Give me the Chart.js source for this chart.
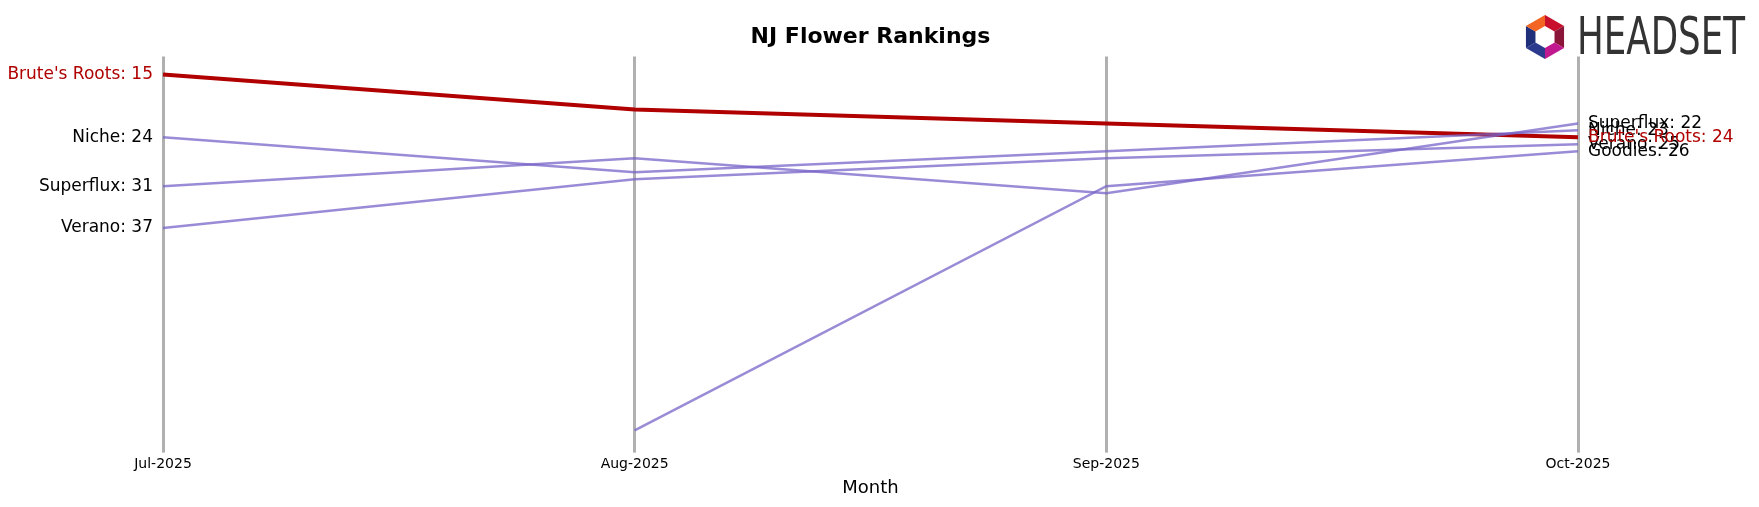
<!DOCTYPE html>
<html>
<head>
<meta charset="utf-8">
<script src="https://cdn.jsdelivr.net/npm/chart.js@4"></script>
<style>
  html, body { margin: 0; padding: 0; background: #fff; }
  #wrap { width: 1759px; height: 507px; position: relative; }
</style>
</head>
<body>
<div id="wrap"><canvas id="rankChart"></canvas></div>
<script>
// data (rank, lower is better)
var months = ["Jul-2025", "Aug-2025", "Sep-2025", "Oct-2025"];
var brutesRoots = [15, 20, 22, 24];
var niche = [24, 29, 26, 23];
var superflux = [31, 27, 32, 22];
var verano = [37, 30, 27, 25];
var goodies = [null, 66, 31, 26];

var highlight = "#b00000";
var other = "rgba(120,100,200,0.75)";

function series(name, data, color, width) {
  return {
    label: name, data: data, borderColor: color, borderWidth: width,
    pointRadius: 0, tension: 0, spanGaps: false, fill: false
  };
}

// draws "Name: rank" at the first and last point of each line
var endLabels = {
  id: "endLabels",
  afterDatasetsDraw: function(chart) {
    var ctx = chart.ctx;
    ctx.save();
    ctx.font = "17px 'DejaVu Sans', sans-serif";
    ctx.textBaseline = "middle";
    chart.data.datasets.forEach(function(ds, i) {
      var meta = chart.getDatasetMeta(i);
      ctx.fillStyle = ds.label === "Brute's Roots" ? highlight : "#000";
      if (ds.data[0] !== null) {
        ctx.textAlign = "right";
        ctx.fillText(ds.label + ": " + ds.data[0], meta.data[0].x - 10, meta.data[0].y);
      }
      var last = ds.data.length - 1;
      ctx.textAlign = "left";
      ctx.fillText(ds.label + ": " + ds.data[last], meta.data[last].x + 10, meta.data[last].y);
    });
    ctx.restore();
  }
};

// simple brand mark in the top right corner
var logo = {
  id: "logo",
  afterDraw: function(chart) {
    var ctx = chart.ctx;
    ctx.save();
    var cx = 1545, cy = 37, r = 22;
    var cols = ["#c8102e", "#8a1538", "#c2188f", "#2b3a8c", "#1f2f7a", "#f26522"];
    for (var k = 0; k < 6; k++) {
      var a0 = -Math.PI / 2 + k * Math.PI / 3, a1 = a0 + Math.PI / 3;
      ctx.beginPath();
      ctx.moveTo(cx + r * 0.5 * Math.cos(a0), cy + r * 0.5 * Math.sin(a0));
      ctx.lineTo(cx + r * Math.cos(a0), cy + r * Math.sin(a0));
      ctx.lineTo(cx + r * Math.cos(a1), cy + r * Math.sin(a1));
      ctx.lineTo(cx + r * 0.5 * Math.cos(a1), cy + r * 0.5 * Math.sin(a1));
      ctx.closePath();
      ctx.fillStyle = cols[k];
      ctx.fill();
    }
    ctx.fillStyle = "#333";
    ctx.font = "52px 'Liberation Sans Narrow', 'DejaVu Sans Condensed', sans-serif";
    ctx.textBaseline = "middle";
    ctx.textAlign = "left";
    ctx.fillText("HEADSET", 1577, 40, 168);
    ctx.restore();
  }
};

new Chart(document.getElementById("rankChart"), {
  type: "line",
  data: {
    labels: months,
    datasets: [
      series("Niche", niche, other, 2.5),
      series("Superflux", superflux, other, 2.5),
      series("Verano", verano, other, 2.5),
      series("Goodies", goodies, other, 2.5),
      series("Brute's Roots", brutesRoots, highlight, 4)
    ]
  },
  options: {
    responsive: true,
    maintainAspectRatio: false,
    animation: false,
    layout: { padding: { left: 163, right: 181, top: 0, bottom: 4 } },
    plugins: {
      legend: { display: false },
      tooltip: { enabled: false },
      title: {
        display: true, text: "NJ Flower Rankings", color: "#000",
        font: { size: 22, weight: "bold", family: "'DejaVu Sans', sans-serif" },
        padding: { top: 24, bottom: 6 }
      }
    },
    scales: {
      x: {
        offset: false,
        grid: { color: "#b0b0b0", lineWidth: 3, drawTicks: true, tickLength: 4 },
        border: { display: false },
        ticks: { color: "#000", font: { size: 14, family: "'DejaVu Sans', sans-serif" }, maxRotation: 0 },
        title: { display: true, text: "Month", color: "#000", font: { size: 18, family: "'DejaVu Sans', sans-serif" }, padding: { top: 2 } }
      },
      y: {
        display: false, reverse: true, min: 12.4, max: 68.6
      }
    }
  },
  plugins: [endLabels, logo]
});
</script>
</body>
</html>
